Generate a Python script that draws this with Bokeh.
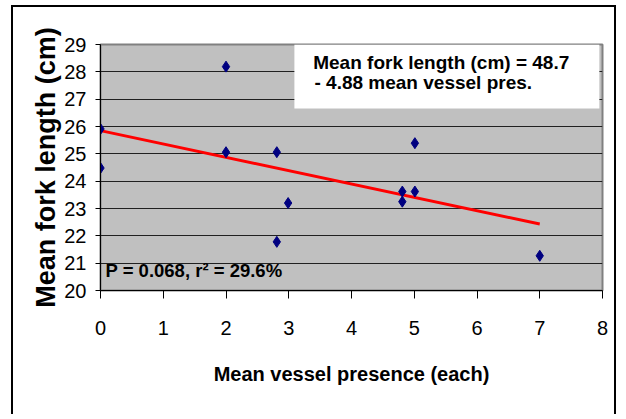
from bokeh.plotting import figure
from bokeh.models import BoxAnnotation, Label, Range1d, FixedTicker
from bokeh.embed import file_html
from bokeh.resources import INLINE

# ---- data ----
vessel = [0, 0, 2, 2, 2.81, 2.99, 2.81, 4.81, 4.81, 5.01, 5.01, 7.0]
fork = [25.91, 24.48, 28.19, 25.06, 25.06, 23.2, 21.78, 23.62, 23.25, 23.62, 25.39, 21.27]
fit_x = [0, 7]
fit_y = [25.85, 22.43]
x_ticks = [0, 1, 2, 3, 4, 5, 6, 7, 8]
y_ticks = [20, 21, 22, 23, 24, 25, 26, 27, 28, 29]
eq_lines = ["Mean fork length (cm)  = 48.7", "- 4.88 mean vessel pres."]
stats_text = "P = 0.068, r\u00b2 = 29.6%"
x_title = "Mean vessel presence (each)"
y_title = "Mean fork length (cm)"

FONT = "Liberation Sans"

p = figure(width=605, height=409, output_backend="svg", toolbar_location=None,
           x_range=Range1d(0, 8), y_range=Range1d(20, 29),
           min_border_left=87, min_border_right=16, min_border_top=37, min_border_bottom=126)
p.styles = {"margin-left": "11px", "margin-top": "5px",
            "border-left": "2px solid #000", "border-top": "2px solid #000",
            "border-right": "2px solid #000"}

p.background_fill_color = "#C0C0C0"
p.border_fill_color = "white"
p.outline_line_color = "#808080"
p.outline_line_width = 2

p.xgrid.grid_line_color = None
p.ygrid.grid_line_color = "#202020"
p.ygrid.grid_line_width = 1

for ax in (p.xaxis[0], p.yaxis[0]):
    ax.axis_line_color = "black"
    ax.axis_line_width = 1
    ax.major_tick_line_color = "black"
    ax.major_tick_in = 0
    ax.minor_tick_line_color = None
    ax.major_label_text_font = FONT
    ax.major_label_text_font_size = "20px"
    ax.major_label_text_color = "black"
    ax.axis_label_text_font = FONT
    ax.axis_label_text_font_style = "bold"
    ax.axis_label_text_color = "black"

p.xaxis.ticker = FixedTicker(ticks=x_ticks)
p.yaxis.ticker = FixedTicker(ticks=y_ticks)
p.xaxis.major_tick_out = 8
p.yaxis.major_tick_out = 5
p.xaxis.major_label_standoff = 22
p.yaxis.major_label_standoff = 9

p.xaxis.axis_label = x_title
p.xaxis.axis_label_text_font_size = "20px"
p.xaxis.axis_label_standoff = 25

p.yaxis.axis_label = y_title
p.yaxis.axis_label_text_font_size = "27px"
p.yaxis.axis_label_standoff = 0

# regression line and points
p.line(fit_x, fit_y, line_color="#FF0000", line_width=3)
p.scatter(vessel, fork, marker="diamond", size=11, fill_color="#000080", line_color="#000080")

# equation box
p.add_layout(BoxAnnotation(left=3.09, right=7.95, top=29, bottom=26.66,
                           fill_color="white", fill_alpha=1, line_color=None))
p.add_layout(Label(x=3.39, y=27.94, text=eq_lines[0], text_font=FONT, text_font_size="19px",
                   text_font_style="bold", text_color="black"))
p.add_layout(Label(x=3.41, y=27.21, text=eq_lines[1], text_font=FONT, text_font_size="19px",
                   text_font_style="bold", text_color="black"))
p.add_layout(Label(x=0.08, y=20.33, text=stats_text, text_font=FONT, text_font_size="18.5px",
                   text_font_style="bold", text_color="black"))

open("out.html", "w").write(file_html(p, INLINE))
